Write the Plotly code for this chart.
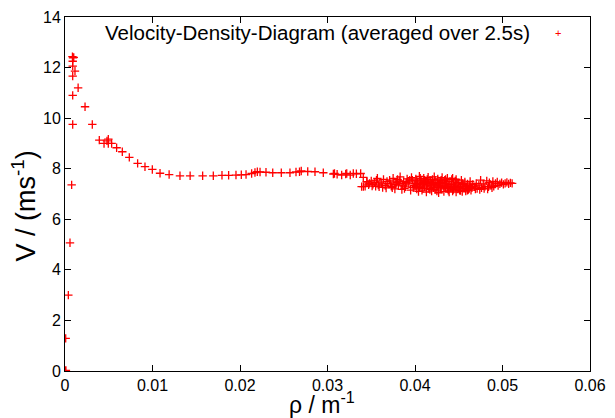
import plotly.graph_objects as go

# density rho (1/m) and velocity V (m/s)
rho = [
    0.0, 0.00005, 0.0001, 0.00008, 0.00038, 0.00057, 0.00076, 0.00088, 0.00088, 0.00088,
    0.00114, 0.00088, 0.00088, 0.00092, 0.00085, 0.0010, 0.0015, 0.00229, 0.00312, 0.00392,
    0.00446, 0.00495, 0.00495, 0.00533, 0.0048, 0.0059, 0.00655, 0.00735, 0.0083, 0.00914,
    0.00998, 0.01086, 0.0119, 0.01314, 0.0143, 0.01573, 0.01695, 0.01794, 0.0187, 0.01954,
    0.02015, 0.02069, 0.02133, 0.02171, 0.02198, 0.02229, 0.02297, 0.02374, 0.02472, 0.02571,
    0.0264, 0.0270, 0.0268, 0.02774, 0.02857, 0.02952, 0.03067, 0.0308, 0.0311, 0.03162,
    0.03208, 0.0322, 0.0326, 0.03295, 0.0333, 0.03379, 0.03409, 0.0345, 0.0339, 0.0341,
    0.0343,
    # cluster
    0.0345, 0.0348, 0.0350, 0.0352, 0.0354, 0.0356, 0.0358, 0.0360, 0.0362, 0.0364,
    0.0366, 0.0368, 0.0347, 0.0351, 0.0355, 0.0359, 0.0363, 0.0367, 0.0369, 0.0357,
    0.0371, 0.0373, 0.0375, 0.0377, 0.0379, 0.0381, 0.0383, 0.0385, 0.0387, 0.0389,
    0.0391, 0.0393, 0.0395, 0.0397, 0.0399, 0.0372, 0.0376, 0.0380, 0.0384, 0.0388,
    0.0392, 0.0396, 0.0398, 0.0374, 0.0378, 0.0382, 0.0386, 0.0390, 0.0394, 0.0400,
    0.0401, 0.0402, 0.0403, 0.0404, 0.0405, 0.0406, 0.0407, 0.0408, 0.0409, 0.0410,
    0.0411, 0.0412, 0.0413, 0.0414, 0.0415, 0.0416, 0.0417, 0.0418, 0.0419, 0.0420,
    0.0421, 0.0422, 0.0423, 0.0424, 0.0425, 0.0426, 0.0427, 0.0428, 0.0429, 0.0430,
    0.0431, 0.0432, 0.0433, 0.0434, 0.0435, 0.0436, 0.0437, 0.0438, 0.0439, 0.0440,
    0.0401, 0.0403, 0.0405, 0.0407, 0.0409, 0.0411, 0.0413, 0.0415, 0.0417, 0.0419,
    0.0421, 0.0423, 0.0425, 0.0427, 0.0429, 0.0431, 0.0433, 0.0435, 0.0437, 0.0439,
    0.0402, 0.0406, 0.0410, 0.0414, 0.0418, 0.0422, 0.0426, 0.0430, 0.0434, 0.0438,
    0.0441, 0.0442, 0.0443, 0.0444, 0.0445, 0.0446, 0.0447, 0.0448, 0.0449, 0.0450,
    0.0451, 0.0452, 0.0453, 0.0454, 0.0455, 0.0456, 0.0457, 0.0458, 0.0459, 0.0460,
    0.0461, 0.0462, 0.0463, 0.0464, 0.0465, 0.0466, 0.0442, 0.0444, 0.0446, 0.0448,
    0.0450, 0.0452, 0.0454, 0.0456, 0.0458, 0.0460, 0.0462, 0.0464, 0.0443, 0.0447,
    0.0468, 0.0470, 0.0471, 0.0473, 0.0475, 0.0476, 0.0478, 0.0480, 0.0482, 0.0484,
    0.0485, 0.0487, 0.0489, 0.0490, 0.0492, 0.0494, 0.0495, 0.0497, 0.0499, 0.0501,
    0.0503, 0.0505, 0.0507, 0.0509, 0.0511, 0.0469, 0.0474, 0.0479, 0.0483, 0.0488,
]
velocity = [
    0.0, 0.0, 0.02, 1.29, 3.0, 5.07, 7.36, 9.75, 10.9, 11.66,
    11.86, 12.06, 12.25, 12.38, 12.43, 12.40, 11.2, 10.45, 9.75, 9.13,
    9.0, 9.17, 9.0, 9.0, 9.1, 8.83, 8.67, 8.45, 8.21, 8.08,
    7.97, 7.82, 7.77, 7.72, 7.72, 7.72, 7.72, 7.74, 7.74, 7.75,
    7.76, 7.77, 7.81, 7.85, 7.88, 7.87, 7.86, 7.84, 7.84, 7.84,
    7.87, 7.91, 7.88, 7.89, 7.88, 7.84, 7.79, 7.81, 7.78, 7.75,
    7.79, 7.81, 7.75, 7.81, 7.80, 7.81, 7.66, 7.49, 7.29, 7.29,
    7.30,
    # cluster
    7.48, 7.42, 7.52, 7.38, 7.45, 7.55, 7.35, 7.47, 7.40, 7.58,
    7.33, 7.50, 7.36, 7.31, 7.30, 7.28, 7.26, 7.24, 7.42, 7.62,
    7.55, 7.30, 7.62, 7.20, 7.45, 7.35, 7.68, 7.18, 7.50, 7.28,
    7.60, 7.40, 7.15, 7.55, 7.33, 7.40, 7.48, 7.58, 7.42, 7.22,
    7.48, 7.65, 7.25, 7.25, 7.38, 7.52, 7.32, 7.45, 7.55, 7.42,
    7.60, 7.20, 7.48, 7.10, 7.70, 7.35, 7.55, 7.15, 7.45, 7.62,
    7.28, 7.50, 7.08, 7.40, 7.66, 7.22, 7.55, 7.32, 7.12, 7.58,
    7.38, 7.68, 7.18, 7.46, 7.28, 7.60, 7.05, 7.42, 7.52, 7.20,
    7.65, 7.35, 7.10, 7.55, 7.25, 7.48, 7.62, 7.15, 7.38, 7.50,
    7.30, 7.38, 7.25, 7.42, 7.22, 7.55, 7.35, 7.45, 7.18, 7.42,
    7.25, 7.55, 7.12, 7.35, 7.25, 7.45, 7.30, 7.58, 7.22, 7.08,
    7.52, 7.62, 7.40, 7.58, 7.48, 7.32, 7.40, 7.55, 7.42, 7.30,
    7.25, 7.58, 7.12, 7.40, 7.30, 7.52, 7.08, 7.35, 7.20, 7.45,
    7.15, 7.30, 7.55, 7.10, 7.38, 7.22, 7.48, 7.12, 7.28, 7.40,
    7.18, 7.33, 7.50, 7.15, 7.25, 7.38, 7.35, 7.18, 7.28, 7.46,
    7.25, 7.14, 7.42, 7.32, 7.20, 7.15, 7.22, 7.30, 7.62, 7.58,
    7.28, 7.42, 7.22, 7.35, 7.55, 7.25, 7.40, 7.30, 7.52, 7.28,
    7.45, 7.35, 7.50, 7.30, 7.42, 7.48, 7.33, 7.40, 7.45, 7.38,
    7.42, 7.46, 7.40, 7.44, 7.42, 7.20, 7.18, 7.22, 7.20, 7.25,
]

x_ticks = [0, 0.01, 0.02, 0.03, 0.04, 0.05, 0.06]
x_ticklabels = ["0", "0.01", "0.02", "0.03", "0.04", "0.05", "0.06"]
y_ticks = [0, 2, 4, 6, 8, 10, 12, 14]

legend_label = "Velocity-Density-Diagram (averaged over 2.5s)"
x_title = "ρ / m<sup>-1</sup>"
y_title = "V / (ms<sup>-1</sup>)"
red = "#ff0000"
font = "Liberation Sans, Arial, sans-serif"

fig = go.Figure()
fig.add_trace(go.Scatter(
    x=rho, y=velocity, mode="markers", showlegend=False,
    marker=dict(symbol="cross-thin", size=6, color=red,
                line=dict(color=red, width=1.3)),
))

axis_common = dict(
    showgrid=False, zeroline=False, showline=True, linecolor="black", linewidth=1,
    mirror="ticks", ticks="inside", ticklen=6, tickcolor="black", automargin=False,
    tickfont=dict(family=font, size=16, color="black"),
)
fig.update_xaxes(range=[0, 0.06], tickvals=x_ticks, ticktext=x_ticklabels, **axis_common)
fig.update_yaxes(range=[0, 14], tickvals=y_ticks, **axis_common)

fig.add_annotation(xref="paper", yref="paper", x=0.49, y=-0.091, xanchor="center", yanchor="middle",
                   text=x_title, showarrow=False, font=dict(family=font, size=23, color="black"))
fig.add_annotation(xref="paper", yref="paper", x=-0.078, y=0.465, xanchor="center", yanchor="middle",
                   text=y_title, textangle=-90, showarrow=False,
                   font=dict(family=font, size=27, color="black"))

fig.add_annotation(xref="paper", yref="paper", x=0.8895, y=0.955, xanchor="right", yanchor="middle",
                   text=legend_label, showarrow=False, font=dict(family=font, size=20.5, color="black"))
fig.add_annotation(xref="paper", yref="paper", x=0.939, y=0.955, xanchor="center", yanchor="middle",
                   text="+", showarrow=False, font=dict(family=font, size=11, color=red))

# the page body adds an 8px offset, so the figure is sized to fit the 615x418 window
fig.update_layout(
    width=607, height=410,
    margin=dict(l=57, r=25, t=9, b=47),
    paper_bgcolor="white", plot_bgcolor="white",
)
fig.write_html("out.html")
